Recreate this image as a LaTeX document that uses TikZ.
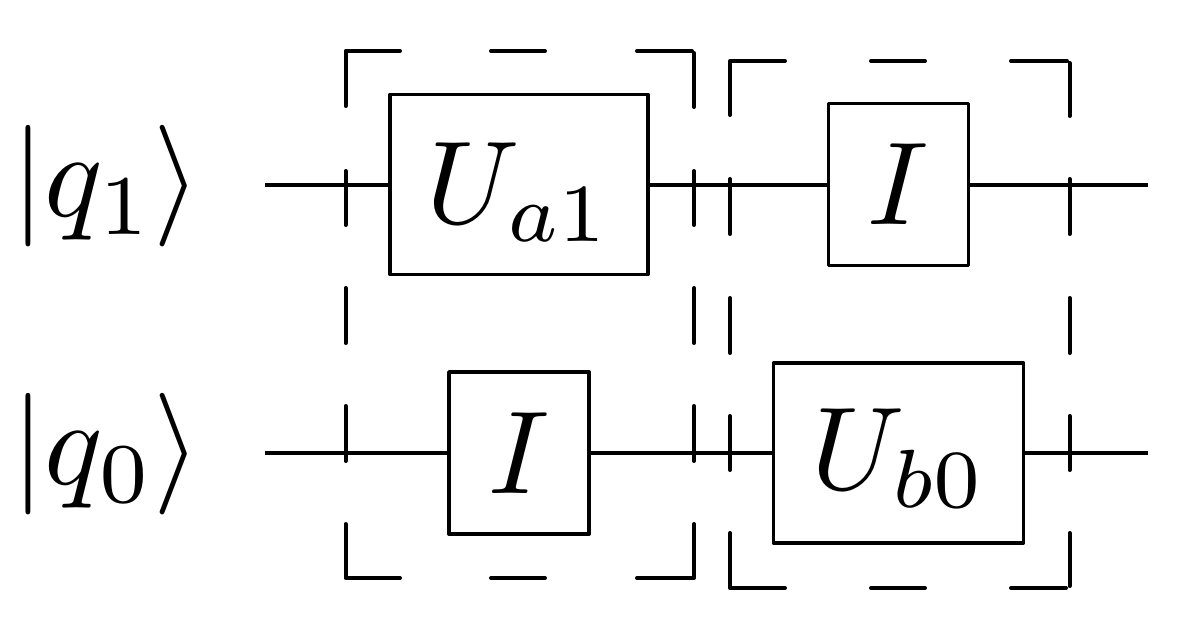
\documentclass[tikz,border=0pt]{standalone}
\tikzset{
 gatebox/.style={draw,line width=3.9pt,fill=white,inner sep=0pt,line join=round},
 wire/.style={line width=4pt},
 dashbox/.style={line width=4pt,line cap=round,line join=round},
 lbl/.style={inner sep=0pt,scale=11.8}
}
\begin{document}
\begin{tikzpicture}[x=1pt,y=-1pt]
\useasboundingbox (0,0) rectangle (1200,638);
\fill[white] (0,0) rectangle (1200,638);
\coordinate (w1a) at (265,185); \coordinate (w1b) at (1148,185);
\coordinate (w0a) at (265,453); \coordinate (w0b) at (1148,453);
\draw[wire] (w1a)--(w1b);
\draw[wire] (w0a)--(w0b);
% dashed boxes
\draw[dashbox] (345.5,106)--(345.5,51)--(400,51) (491,51)--(545,51) (637,51)--(692,51)
 (694,53)--(694,107) (694,171)--(694,225) (694,288)--(694,343) (694,406)--(694,461) (694,524)--(694,578)--(637,578)
 (545,578)--(491,578) (400,578)--(345.5,578)--(345.5,524) (345.5,406)--(345.5,461) (345.5,288)--(345.5,343) (345.5,171)--(345.5,225);
\draw[dashbox] (730,115)--(730,61)--(785,61) (871,61)--(925,61) (1011,61)--(1067,61)
 (1069.5,63)--(1069.5,116) (730,179)--(730,234) (730,298)--(730,353) (730,416)--(730,470) (730,533)--(730,588)--(785,588)
 (871,588)--(925,588) (1011,588)--(1066,588) (1069.5,586)--(1069.5,533) (1069.5,416)--(1069.5,470) (1069.5,298)--(1069.5,353) (1069.5,179)--(1069.5,234);
\node[gatebox,minimum width=258pt,minimum height=180pt] (ua) at (519,184.5) {};
\node[lbl] at (519,192) {$U_{a1}$};
\node[gatebox,minimum width=140pt,minimum height=162pt] (i1) at (898.5,184.5) {};
\node[lbl] at (i1) {$I$};
\node[gatebox,minimum width=140pt,minimum height=162pt] (i0) at (519,453) {};
\node[lbl] at (i0) {$I$};
\node[gatebox,minimum width=250pt,minimum height=180pt] (ub) at (898.5,453) {};
\node[lbl] at (899,458) {$U_{b0}$};
\node[lbl,scale=1.03] (q1) at (106,186) {$|q_1\rangle$};
\node[lbl,scale=1.03] (q0) at (106,454) {$|q_0\rangle$};
\end{tikzpicture}
\end{document}
